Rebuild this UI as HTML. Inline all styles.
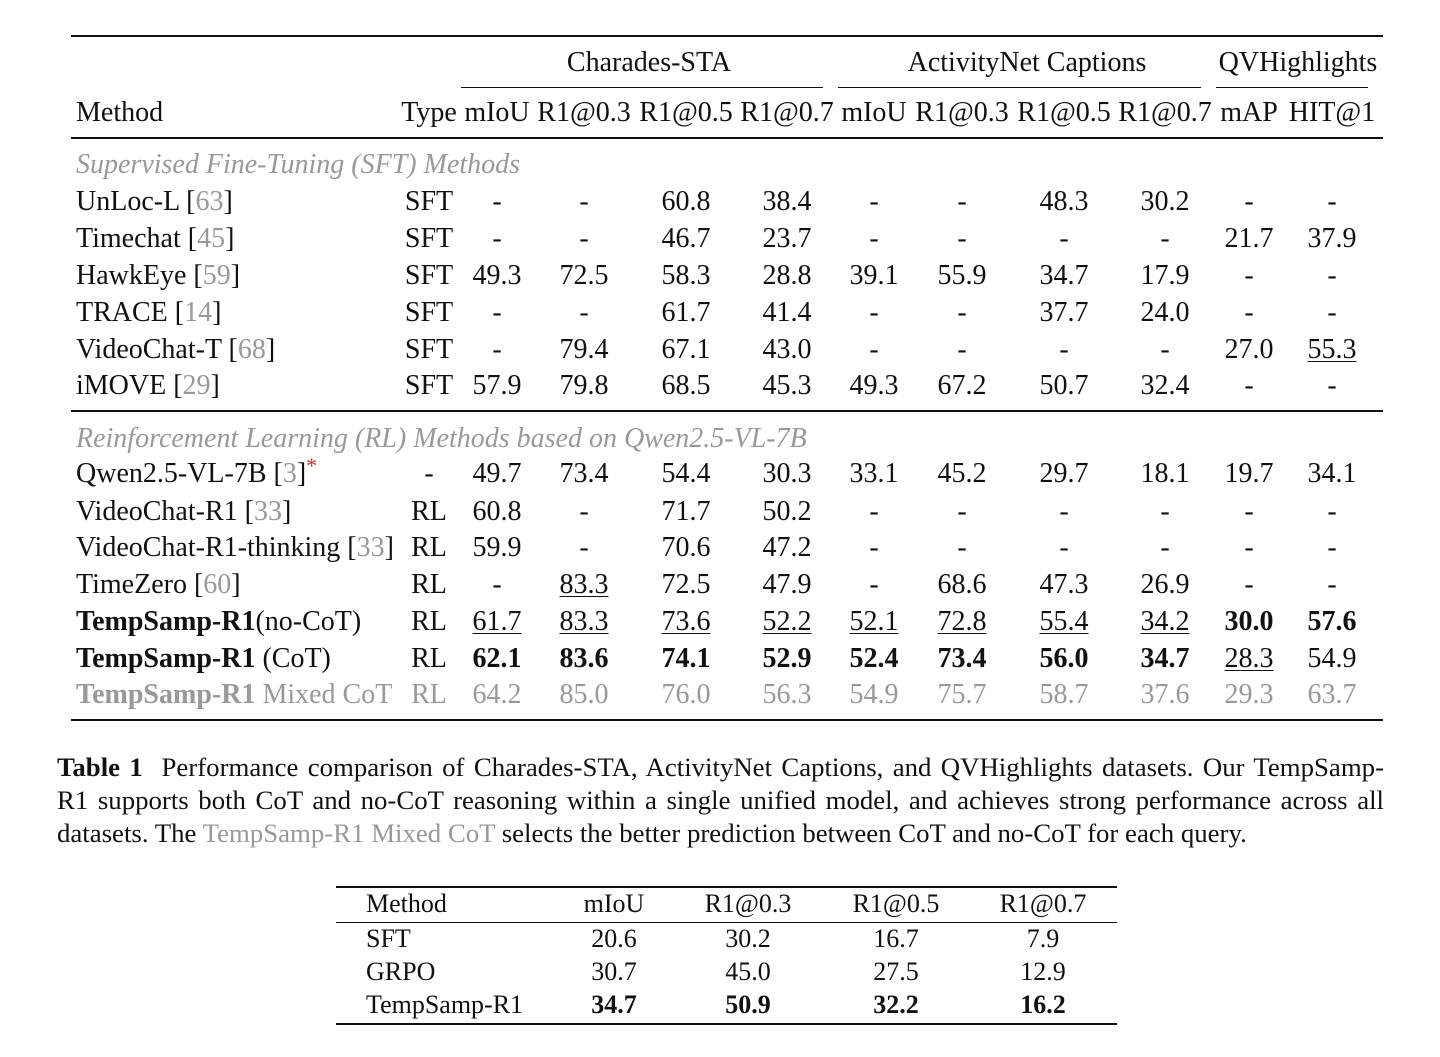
<!DOCTYPE html>
<html><head><meta charset="utf-8"><style>
body{margin:0;width:1440px;height:1057px;background:#fff;position:relative;font-family:"Liberation Serif",serif;color:#111;overflow:hidden}
.t{position:absolute;white-space:nowrap;line-height:30px;font-size:28px}
.c{text-align:center;width:300px}
.r{position:absolute;background:#111}
.g{color:#999}
.u{text-decoration:underline;text-underline-offset:3px;text-decoration-thickness:1px}
b{font-weight:bold}
.cap{position:absolute;left:57px;width:1327px;font-size:26.8px;line-height:30px;white-space:nowrap}
.j{text-align:justify;text-align-last:justify}
.ast{color:#c0392b;position:relative;top:-9px;font-size:22px}
</style></head><body>
<div class="r" style="left:71px;top:35px;width:1312px;height:2px"></div>
<div class="r" style="left:461px;top:87px;width:362px;height:1px"></div>
<div class="r" style="left:838px;top:87px;width:363px;height:1px"></div>
<div class="r" style="left:1216px;top:87px;width:152px;height:1px"></div>
<div class="r" style="left:71px;top:137px;width:1312px;height:1.5px"></div>
<div class="r" style="left:71px;top:410px;width:1312px;height:1.5px"></div>
<div class="r" style="left:71px;top:719px;width:1312px;height:2px"></div>
<div class="r" style="left:336px;top:886px;width:781px;height:2px"></div>
<div class="r" style="left:336px;top:922px;width:781px;height:1px"></div>
<div class="r" style="left:336px;top:1023px;width:781px;height:2px"></div>
<div id="root"></div>
<div class="cap j" style="top:752px"><b>Table 1</b>&nbsp; Performance comparison of Charades-STA, ActivityNet Captions, and QVHighlights datasets. Our TempSamp-</div>
<div class="cap j" style="top:785px">R1 supports both CoT and no-CoT reasoning within a single unified model, and achieves strong performance across all</div>
<div class="cap" style="top:818px">datasets. The <span class="g">TempSamp-R1 Mixed CoT</span> selects the better prediction between CoT and no-CoT for each query.</div>
<script>
var R=document.getElementById('root'),h='';
function t(x,y,s,cls,st){h+='<div class="t '+(cls||'')+'" style="left:'+x+'px;top:'+(y-14)+'px;'+(st||'')+'">'+s+'</div>';}
function c(x,y,s,st){t(x-150,y,s,'c',st);}
c(649,62,'Charades-STA');c(1027,62,'ActivityNet Captions');c(1298,62,'QVHighlights');
t(76,112,'Method');
var cx=[429,497,584,686,787,874,962,1064,1165,1249,1332];
['Type','mIoU','R1@0.3','R1@0.5','R1@0.7','mIoU','R1@0.3','R1@0.5','R1@0.7','mAP','HIT@1'].forEach(function(s,i){c(cx[i],112,s);});
t(76,164,'<i>Supervised Fine-Tuning (SFT) Methods</i>','g');
t(76,438,'<i>Reinforcement Learning (RL) Methods based on Qwen2.5-VL-7B</i>','g');
var rows=[
[201,'UnLoc-L [<span class="g">63</span>]','SFT - - 60.8 38.4 - - 48.3 30.2 - -'],
[238,'Timechat [<span class="g">45</span>]','SFT - - 46.7 23.7 - - - - 21.7 37.9'],
[275,'HawkEye [<span class="g">59</span>]','SFT 49.3 72.5 58.3 28.8 39.1 55.9 34.7 17.9 - -'],
[312,'TRACE [<span class="g">14</span>]','SFT - - 61.7 41.4 - - 37.7 24.0 - -'],
[349,'VideoChat-T [<span class="g">68</span>]','SFT - 79.4 67.1 43.0 - - - - 27.0 _55.3'],
[385,'iMOVE [<span class="g">29</span>]','SFT 57.9 79.8 68.5 45.3 49.3 67.2 50.7 32.4 - -'],
[473,'Qwen2.5-VL-7B [<span class="g">3</span>]<span class="ast">*</span>','- 49.7 73.4 54.4 30.3 33.1 45.2 29.7 18.1 19.7 34.1'],
[511,'VideoChat-R1 [<span class="g">33</span>]','RL 60.8 - 71.7 50.2 - - - - - -'],
[547,'VideoChat-R1-thinking [<span class="g">33</span>]','RL 59.9 - 70.6 47.2 - - - - - -'],
[584,'TimeZero [<span class="g">60</span>]','RL - _83.3 72.5 47.9 - 68.6 47.3 26.9 - -'],
[621,'<b>TempSamp-R1</b>(no-CoT)','RL _61.7 _83.3 _73.6 _52.2 _52.1 _72.8 _55.4 _34.2 *30.0 *57.6'],
[658,'<b>TempSamp-R1</b> (CoT)','RL *62.1 *83.6 *74.1 *52.9 *52.4 *73.4 *56.0 *34.7 _28.3 54.9'],
[694,'<span class="g"><b>TempSamp-R1</b> Mixed CoT</span>','RL 64.2 85.0 76.0 56.3 54.9 75.7 58.7 37.6 29.3 63.7',1]];
rows.forEach(function(r){t(76,r[0],r[1]);r[2].split(' ').forEach(function(s,i){
 var v=s;if(s[0]=='_')v='<span class="u">'+s.slice(1)+'</span>';else if(s[0]=='*')v='<b>'+s.slice(1)+'</b>';
 c(cx[i],r[0],v,r[3]?'color:#999':'');});});
var cx2=[614,748,896,1043];
function t2(x,y,s){h+='<div class="t" style="font-size:26px;left:'+x+'px;top:'+(y-15)+'px">'+s+'</div>';}
function c2(x,y,s){h+='<div class="t c" style="font-size:26px;left:'+(x-150)+'px;top:'+(y-15)+'px">'+s+'</div>';}
[[904,'Method',['mIoU','R1@0.3','R1@0.5','R1@0.7']],[939,'SFT',['20.6','30.2','16.7','7.9']],[972,'GRPO',['30.7','45.0','27.5','12.9']],[1005,'TempSamp-R1',['<b>34.7</b>','<b>50.9</b>','<b>32.2</b>','<b>16.2</b>']]].forEach(function(r){t2(366,r[0],r[1]);r[2].forEach(function(s,i){c2(cx2[i],r[0],s);});});
R.innerHTML=h;
</script>
</body></html>
